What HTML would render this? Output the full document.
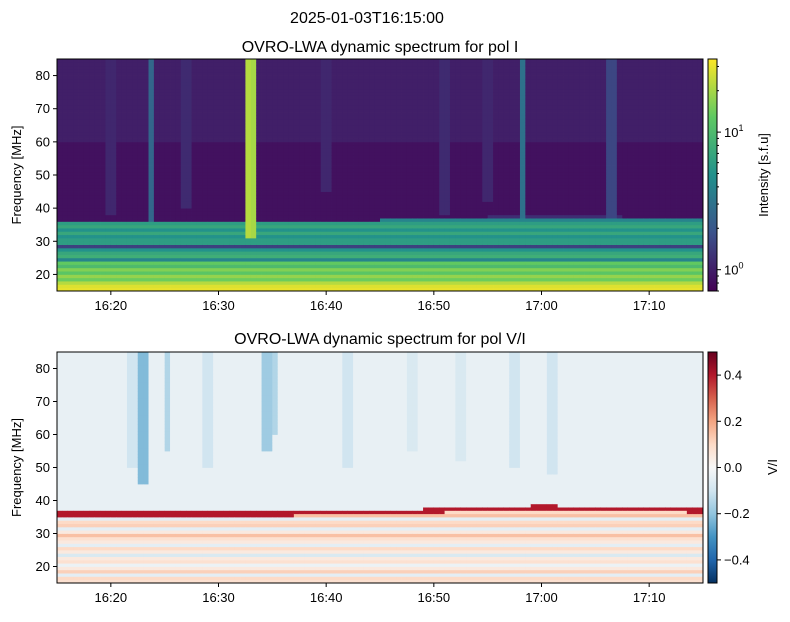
<!DOCTYPE html>
<html><head><meta charset="utf-8"><style>
body{margin:0;background:#fff;}
svg text{font-family:"Liberation Sans","DejaVu Sans",sans-serif;fill:#000;}
</style></head><body>
<svg id="fig" width="790" height="617" viewBox="0 0 790 617" xmlns="http://www.w3.org/2000/svg">
<rect width="790" height="617" fill="#fff"/>
<text x="367" y="23" font-size="16" text-anchor="middle">2025-01-03T16:15:00</text>
<text x="380" y="52" font-size="16" text-anchor="middle">OVRO-LWA dynamic spectrum for pol I</text>
<text x="380" y="344" font-size="16" text-anchor="middle">OVRO-LWA dynamic spectrum for pol V/I</text>
<g id="top"></g>
<g id="bot"></g>
<g id="axes"></g>
<defs>
<linearGradient id="gvir" x1="0" y1="1" x2="0" y2="0">
<stop offset="0" stop-color="#440154"/><stop offset="0.25" stop-color="#3b528b"/><stop offset="0.5" stop-color="#21918c"/><stop offset="0.75" stop-color="#5ec962"/><stop offset="1" stop-color="#fde725"/>
</linearGradient>
<linearGradient id="grdbu" x1="0" y1="1" x2="0" y2="0">
<stop offset="0" stop-color="#053061"/><stop offset="0.1" stop-color="#2166ac"/><stop offset="0.2" stop-color="#4393c3"/><stop offset="0.3" stop-color="#92c5de"/><stop offset="0.4" stop-color="#d1e5f0"/><stop offset="0.5" stop-color="#f7f7f7"/><stop offset="0.6" stop-color="#fddbc7"/><stop offset="0.7" stop-color="#f4a582"/><stop offset="0.8" stop-color="#d6604d"/><stop offset="0.9" stop-color="#b2182b"/><stop offset="1" stop-color="#67001f"/>
</linearGradient>
</defs>
</svg>
<script>
// ---- data ----
const timeTickLabels = ["16:20","16:30","16:40","16:50","17:00","17:10"];
const timeTickMinutes = [5,15,25,35,45,55];
const freqTicks = [20,30,40,50,60,70,80];
const bandI = [30,28,22,14,18,12,16,10,13,4,8,7,5,1.5,6,6,5,7,5,7,6,4,1.2]; // 15..37 MHz
const bandV = [0.08,0.1,-0.05,0.12,0.05,-0.03,0.08,0.05,-0.08,0.05,0.1,-0.05,0.05,0.08,0.15,0.05,-0.05,0.12,0.1,-0.05,0.15,0.1,0.05];
const cutoffT = [0,20,30,40,45,60];
const cutoffF = [36,36,36.5,37.5,38,37];
const bgLow = 0.85, bgHigh = 1.0;
const burstT = [8.6,17.7,18.0,43.2,51.5,5,12,25,36,40];
const burstFmin = [32,31,31,33,35,38,40,45,38,42];
const burstPeak = [2.5,22,20,3,1.6,1.1,1.15,1.1,1.15,1.1];
const vBurstT = [7,8,10.2,14,19.5,20,27,33,37.5,42.5,46];
const vBurstFmin = [50,45,55,50,55,60,50,55,52,50,48];
const vBurstVal = [-0.1,-0.22,-0.15,-0.1,-0.18,-0.15,-0.1,-0.08,-0.08,-0.1,-0.1];
const vLineVal = 0.4;
const cbITicks = [1,10];
const cbVTicks = [0.4,0.2,0,-0.2,-0.4];

// ---- axes functions ----
const X0=57,X1=703;
const xs = m => X0 + (X1-X0)*m/60;
const ysTop = f => 59 + (291-59)*(85-f)/70;
const ysBot = f => 352 + (583-352)*(85-f)/70;
const vmin=0.7,vmax=34;
const normI = v => Math.max(0,Math.min(1,Math.log(v/vmin)/Math.log(vmax/vmin)));
const normV = v => Math.max(0,Math.min(1,(v+0.5)));
function lerpStops(stops,t){
  for(let i=0;i<stops.length-1;i++){
    if(t<=stops[i+1][0]){const a=stops[i],b=stops[i+1];const u=(t-a[0])/(b[0]-a[0]);
      const c=a[1].map((x,k)=>Math.round(x+(b[1][k]-x)*u));return `rgb(${c})`;}
  }
  return `rgb(${stops[stops.length-1][1]})`;
}
const vir=[[0,[68,1,84]],[0.25,[59,82,139]],[0.5,[33,145,140]],[0.75,[94,201,98]],[1,[253,231,37]]];
const rdbu=[[0,[5,48,97]],[0.1,[33,102,172]],[0.2,[67,147,195]],[0.3,[146,197,222]],[0.4,[209,229,240]],[0.5,[247,247,247]],[0.6,[253,219,199]],[0.7,[244,165,130]],[0.8,[214,96,77]],[0.9,[178,24,43]],[1,[103,0,31]]];
function interp(xa,ya,x){for(let i=0;i<xa.length-1;i++){if(x<=xa[i+1]){const u=(x-xa[i])/(xa[i+1]-xa[i]);return ya[i]+(ya[i+1]-ya[i])*u;}}return ya[ya.length-1];}

const NS='http://www.w3.org/2000/svg';
function mk(tag,attrs,parent){const e=document.createElementNS(NS,tag);for(const k in attrs)e.setAttribute(k,attrs[k]);parent.appendChild(e);return e;}

const dt=0.5, df=1;
const gTop=document.getElementById('top'), gBot=document.getElementById('bot');
for(let t=0;t<60;t+=dt){
  const tc=t+dt/2, cut=interp(cutoffT,cutoffF,tc);
  for(let f=15;f<85;f+=df){
    const fc=f+0.5;
    let I = fc<cut ? bandI[Math.min(bandI.length-1,f-15)] : (fc>60?bgHigh:bgLow);
    let V = fc<cut ? bandV[Math.min(bandV.length-1,f-15)] : -0.04;
    if(Math.abs(fc-cut)<0.6) V=vLineVal;
    for(let b=0;b<burstT.length;b++){
      if(Math.abs(tc-burstT[b])<dt/2+0.01 && fc>=burstFmin[b]) I=Math.max(I,burstPeak[b]);
    }
    for(let b=0;b<vBurstT.length;b++){
      if(Math.abs(tc-vBurstT[b])<dt/2+0.01 && fc>=vBurstFmin[b] && fc>=cut+2) V=Math.min(V,vBurstVal[b]);
    }
    const r1=mk('rect',{x:xs(t).toFixed(2),y:ysTop(f+df).toFixed(2),width:(xs(t+dt)-xs(t)+0.4).toFixed(2),height:(ysTop(f)-ysTop(f+df)+0.4).toFixed(2),fill:lerpStops(vir,normI(I))},gTop);
    
    
    const r2=mk('rect',{x:xs(t).toFixed(2),y:ysBot(f+df).toFixed(2),width:(xs(t+dt)-xs(t)+0.4).toFixed(2),height:(ysBot(f)-ysBot(f+df)+0.4).toFixed(2),fill:lerpStops(rdbu,normV(V))},gBot);
    
    
  }
}

const ax=document.getElementById('axes');
function frame(y0,y1,ys,name){
  const r=mk('rect',{x:X0,y:y0,width:X1-X0,height:y1-y0,fill:'none',stroke:'#000','stroke-width':1},ax);
  
  
  timeTickMinutes.forEach((m,i)=>{
    mk('line',{x1:xs(m),x2:xs(m),y1:y1,y2:y1+4,stroke:'#000'},ax);
    const t=mk('text',{x:xs(m),y:y1+19,'font-size':13,'text-anchor':'middle'},ax);t.textContent=timeTickLabels[i];
    
    
  });
  freqTicks.forEach(f=>{
    mk('line',{x1:X0-4,x2:X0,y1:ys(f),y2:ys(f),stroke:'#000'},ax);
    const t=mk('text',{x:X0-7,y:ys(f)+4.5,'font-size':13,'text-anchor':'end'},ax);t.textContent=f;
    
    
  });
  const yl=mk('text',{x:0,y:0,'font-size':13,'text-anchor':'middle',transform:`translate(21,${(y0+y1)/2}) rotate(-90)`},ax);yl.textContent='Frequency [MHz]';
  
  
}
frame(59,291,ysTop,'top');
frame(352,583,ysBot,'bottom');

// colorbars
const CB0=708,CB1=717;
const cb1=mk('rect',{x:CB0,y:59,width:CB1-CB0,height:232,fill:'url(#gvir)',stroke:'#000','stroke-width':1},ax);


const ycbI=v=>291-232*normI(v);
const minors=[0.7,0.8,0.9,2,3,4,5,6,7,8,9,20,30];
minors.forEach(v=>mk('line',{x1:CB1,x2:CB1+2,y1:ycbI(v),y2:ycbI(v),stroke:'#000'},ax));
cbITicks.forEach((v,i)=>{
  mk('line',{x1:CB1,x2:CB1+4,y1:ycbI(v),y2:ycbI(v),stroke:'#000'},ax);
  const t=mk('text',{x:CB1+7,y:ycbI(v)+5,'font-size':13},ax);
  t.innerHTML='10<tspan dy="-6" font-size="9">'+i+'</tspan>';
  
  
});
const l1=mk('text',{x:0,y:0,'font-size':13,'text-anchor':'middle',transform:'translate(768,175) rotate(-90)'},ax);l1.textContent='Intensity [s.f.u]';



const cb2=mk('rect',{x:CB0,y:352,width:CB1-CB0,height:231,fill:'url(#grdbu)',stroke:'#000','stroke-width':1},ax);


const ycbV=v=>583-231*normV(v);
cbVTicks.forEach(v=>{
  mk('line',{x1:CB1,x2:CB1+4,y1:ycbV(v),y2:ycbV(v),stroke:'#000'},ax);
  const t=mk('text',{x:CB1+7,y:ycbV(v)+4.5,'font-size':13},ax);
  t.textContent=(v<0?'\u2212':'')+Math.abs(v).toFixed(1);
  
  
});
const l2=mk('text',{x:0,y:0,'font-size':13,'text-anchor':'middle',transform:'translate(777,467) rotate(-90)'},ax);l2.textContent='V/I';


</script>
</body></html>
